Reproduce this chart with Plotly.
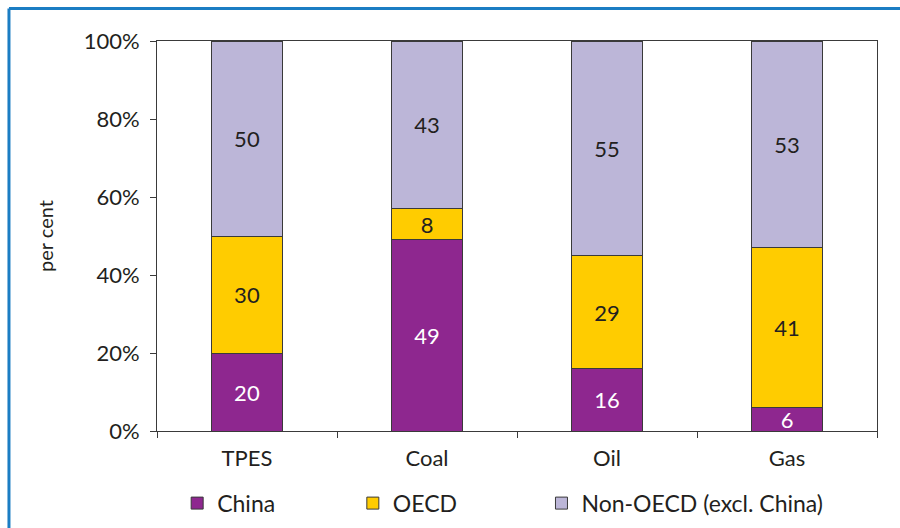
import plotly.graph_objects as go

categories = ["TPES", "Coal", "Oil", "Gas"]
china = [20, 49, 16, 6]
oecd = [30, 8, 29, 41]
non_oecd = [50, 43, 55, 53]
y_ticks = [0, 20, 40, 60, 80, 100]
y_tick_labels = ["0%", "20%", "40%", "60%", "80%", "100%"]

FONT = "Lato, 'Open Sans', sans-serif"
TEXT = "#231F20"

series = [
    ("China", china, "#8E278F", "white", "legend", 0.028),
    ("OECD", oecd, "#FFCC00", TEXT, "legend2", 0.272),
    ("Non-OECD (excl. China)", non_oecd, "#BCB6D8", TEXT, "legend3", 0.534),
]

fig = go.Figure()
legends = {}
for name, vals, color, tcol, leg, lx in series:
    fig.add_trace(go.Bar(
        x=categories, y=vals, name=name, legend=leg,
        marker=dict(color=color, line=dict(color="#3a3a3a", width=1)),
        text=[str(v) for v in vals], textposition="inside",
        insidetextanchor="middle", textangle=0, constraintext="none",
        textfont=dict(color=tcol, size=22, family=FONT),
        width=0.395,
    ))
    legends[leg] = dict(
        orientation="h", x=lx, xanchor="left", y=-0.185, yanchor="middle",
        font=dict(size=23, family=FONT, color=TEXT),
        bgcolor="rgba(0,0,0,0)",
    )

fig.update_layout(
    barmode="stack",
    width=900, height=528,
    margin=dict(l=157, r=23, t=41, b=97, autoexpand=False),
    paper_bgcolor="white", plot_bgcolor="white",
    font=dict(family=FONT, color=TEXT, size=22),
    showlegend=True,
    **legends,
)
fig.update_xaxes(
    showline=True, linecolor="#3a3a3a", linewidth=1, mirror=True,
    ticks="outside", tickson="boundaries", ticklen=6, tickcolor="#3a3a3a",
    tickfont=dict(size=22), showgrid=False, ticklabelstandoff=8,
)
fig.update_yaxes(
    range=[0, 100], tickvals=y_ticks, ticktext=y_tick_labels,
    showline=True, linecolor="#3a3a3a", linewidth=1, mirror=True,
    ticks="outside", ticklen=6, tickcolor="#3a3a3a",
    tickfont=dict(size=22), showgrid=False, ticklabelstandoff=6,
    title=dict(text="per cent", font=dict(size=20), standoff=24),
)

# blue frame along the top and left edges
fig.add_shape(type="line", xref="paper", yref="paper",
              x0=-0.2056, x1=1.1, y0=1.0833, y1=1.0833,
              line=dict(color="#1B7DC3", width=3))
fig.add_shape(type="line", xref="paper", yref="paper",
              x0=-0.2056, x1=-0.2056, y0=1.0833, y1=-0.3,
              line=dict(color="#1B7DC3", width=3))

fig.write_html("out.html")
